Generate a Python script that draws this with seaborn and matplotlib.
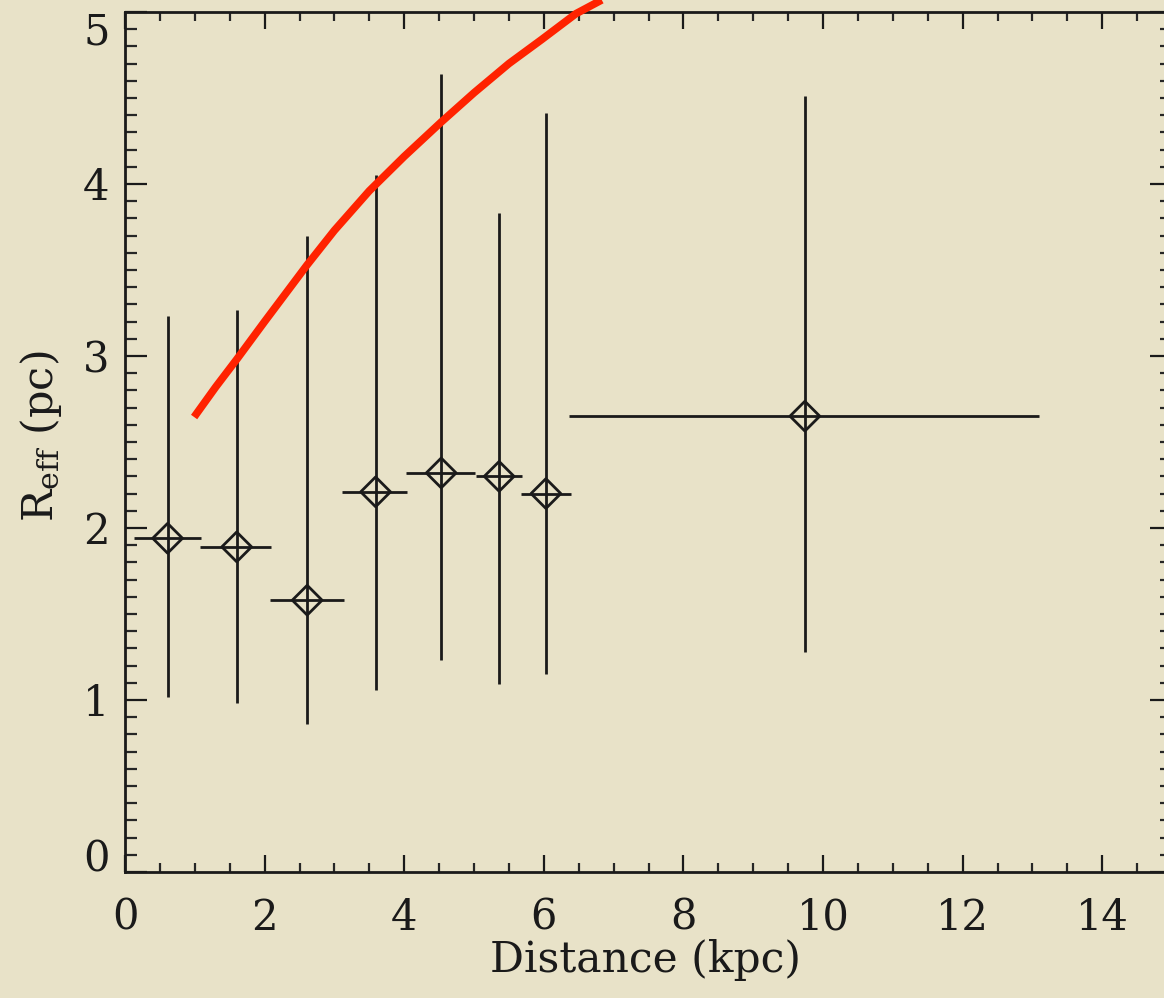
import numpy as np
import pandas as pd
import matplotlib
matplotlib.use("Agg")
import matplotlib.pyplot as plt
from matplotlib.ticker import MultipleLocator
import seaborn as sns

# Binned effective radius vs. distance
distance = [0.61, 1.60, 2.61, 3.59, 4.53, 5.36, 6.03, 9.74]
r_eff = [1.94, 1.89, 1.58, 2.21, 2.32, 2.30, 2.20, 2.65]
d_lo = [0.13, 1.07, 2.07, 3.11, 4.03, 5.03, 5.67, 6.36]
d_hi = [1.09, 2.09, 3.14, 4.04, 5.01, 5.69, 6.39, 13.10]
r_lo = [1.02, 0.98, 0.86, 1.06, 1.23, 1.09, 1.15, 1.28]
r_hi = [3.23, 3.27, 3.70, 4.05, 4.64, 3.83, 4.41, 4.51]

# Red reference curve
curve_d = [0.99, 1.30, 1.60, 2.00, 2.61, 3.00, 3.50, 4.00, 4.53, 5.00, 5.50, 5.97, 6.46, 6.83]
curve_r = [2.645, 2.82, 2.98, 3.20, 3.53, 3.73, 3.96, 4.16, 4.36, 4.53, 4.70, 4.84, 4.99, 5.07]

bg = "#e8e2c8"
ink = "#1a1a1a"

sns.set_theme(style="ticks")
plt.rcParams["font.family"] = ["DejaVu Serif"]
plt.rcParams["mathtext.fontset"] = "dejavuserif"

fig = plt.figure(figsize=(11.64, 9.98), dpi=100, facecolor=bg)
ax = fig.add_axes([0.1074, 0.1263, 0.8995, 0.8617])
ax.set_facecolor(bg)

df = pd.DataFrame({"d": distance, "r": r_eff})
xerr = np.array([np.subtract(distance, d_lo), np.subtract(d_hi, distance)])
yerr = np.array([np.subtract(r_eff, r_lo), np.subtract(r_hi, r_eff)])
ax.errorbar(distance, r_eff, xerr=xerr, yerr=yerr, fmt="none",
            ecolor=ink, elinewidth=2.0, capsize=0, zorder=2)
sns.scatterplot(data=df, x="d", y="r", ax=ax, marker="D", s=230,
                facecolor="none", edgecolor=ink, linewidth=2.0, zorder=3)

cdf = pd.DataFrame({"d": curve_d, "r": curve_r})
sns.lineplot(data=cdf, x="d", y="r", ax=ax, color="#ff2200",
             linewidth=5.5, zorder=4)
for ln in ax.get_lines():
    ln.set_clip_on(False)
    ln.set_solid_capstyle("butt")

ax.set_xlim(0, 15)
ax.set_ylim(0, 5)
ax.xaxis.set_major_locator(MultipleLocator(2))
ax.xaxis.set_minor_locator(MultipleLocator(0.5))
ax.set_yticks([0, 1, 2, 3, 4, 5])
ax.yaxis.set_minor_locator(MultipleLocator(0.1))

for s in ax.spines.values():
    s.set_linewidth(2)
    s.set_color(ink)

ax.tick_params(axis="x", which="major", direction="in", length=12, width=1.6,
               top=True, bottom=True, labelsize=30, pad=18, colors=ink)
ax.tick_params(axis="x", which="minor", direction="in", length=6.5, width=1.6,
               top=True, bottom=True)
ax.tick_params(axis="y", which="major", direction="in", length=16, width=1.6,
               left=True, right=True, labelsize=30, pad=11, colors=ink)
ax.tick_params(axis="y", which="minor", direction="in", length=8.5, width=1.6,
               left=True, right=True)

ax.set_xlabel("Distance (kpc)", fontsize=30.5, color=ink)
ax.set_ylabel(r"$\mathrm{R}_{\mathrm{eff}}$ (pc)", fontsize=31, color=ink)
ax.xaxis.set_label_coords(0.497, -0.078)
ax.yaxis.set_label_coords(-0.058, 0.506)

# keep the end labels of the y axis inside the frame
yticks = ax.yaxis.get_major_ticks()
yticks[0].label1.set_va("baseline")
yticks[-1].label1.set_va("top")

fig.savefig("out.png", dpi=100, facecolor=bg)
